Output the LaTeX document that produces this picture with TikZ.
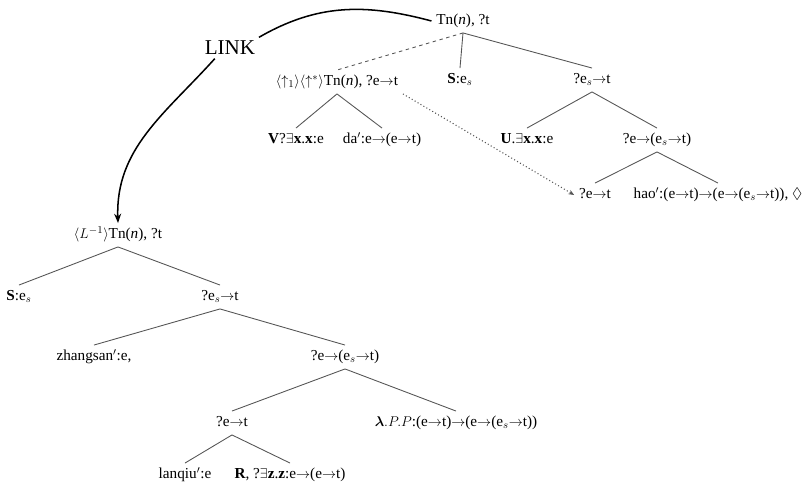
\documentclass[tikz,border=0pt]{standalone}
\usepackage{amssymb}
\usepackage{amsmath}
\usepackage{fontspec}
\setmainfont{Liberation Serif}
\usepackage{tikz}
\definecolor{white}{rgb}{1.0, 1.0, 1.0}
\definecolor{black}{rgb}{0.0, 0.0, 0.0}
\definecolor{edgegray}{RGB}{85,85,85}
\usetikzlibrary{arrows.meta}
\pgfdeclarelayer{edgelayer}
\pgfdeclarelayer{nodelayer}
\pgfsetlayers{edgelayer,nodelayer,main}
\tikzstyle{term}=[font=\fontsize{13}{15}\selectfont,text height=9pt,text depth=3pt,inner sep=4pt]
\tikzstyle{linkword}=[font=\fontsize{18}{20}\selectfont,inner sep=3pt]
\tikzstyle{branch}=[draw=edgegray,line width=0.75pt]
\tikzstyle{linkarc}=[black,line width=1.3pt]
\newcommand{\ar}{{\rightarrow}}

\begin{document}
\begin{tikzpicture}[x=0.03cm,y=0.03cm]
            \useasboundingbox (0,0) rectangle (807,485);
            \begin{pgfonlayer}{nodelayer}
            % main tree
            \node [style = term] (root) at (463, 464) {Tn(\textit{n}), ?t};
            \node [style = term] (up) at (337, 403) {$\langle\uparrow_1\rangle\langle\uparrow^{*}\rangle$Tn(\textit{n}), ?e$\ar$t};
            \node [style = term] (s_top) at (460, 405) {\textbf{S}:e$_s$};
            \node [style = term] (est) at (592, 405) {?e$_s\ar$t};

            \node [style = term] (v) at (296, 345) {\textbf{V}?$\exists$\textbf{x}.\textbf{x}:e};
            \node [style = term] (da) at (382, 345) {da$'$:e$\ar$(e$\ar$t)};
            \node [style = term] (u) at (527, 345) {\textbf{U}.$\exists$\textbf{x}.\textbf{x}:e};
            \node [style = term] (eest) at (657, 345) {?e$\ar$(e$_s\ar$t)};

            \node [style = term] (pet) at (595, 290) {?e$\ar$t};
            \node [style = term] (hao) at (718, 290) {hao$'$:(e$\ar$t)$\ar$(e$\ar$(e$_s\ar$t)), $\Diamond$};

            \node [style = linkword] (link) at (230, 437) {LINK};

            % linked tree
            \node [style = term] (lroot) at (118, 250) {$\langle L^{-1}\rangle$Tn(\textit{n}), ?t};
            \node [style = term] (s_low) at (19, 188) {\textbf{S}:e$_s$};
            \node [style = term] (lest) at (220, 188) {?e$_s\ar$t};

            \node [style = term] (zh) at (94, 128) {zhangsan$'$:e,};
            \node [style = term] (leest) at (345, 128) {?e$\ar$(e$_s\ar$t)};

            \node [style = term] (let) at (232, 62) {?e$\ar$t};
            \node [style = term] (lam) at (456, 62) {$\boldsymbol{\lambda}.P.P$:(e$\ar$t)$\ar$(e$\ar$(e$_s\ar$t))};

            \node [style = term] (lan) at (185, 10) {lanqiu$'$:e};
            \node [style = term] (r) at (290, 10) {\textbf{R}, ?$\exists$\textbf{z}.\textbf{z}:e$\ar$(e$\ar$t)};
            \end{pgfonlayer}

        \begin{pgfonlayer}{edgelayer}
            \draw [style = branch, dashed] (root.south) to (up.north);
            \draw [style = branch] (root.south) to (s_top.north);
            \draw [style = branch] (root.south) to (est.north);

            \draw [style = branch] (up.south) to (v.north);
            \draw [style = branch] (up.south) to (da.north);
            \draw [style = branch] (est.south) to (u.north);
            \draw [style = branch] (est.south) to (eest.north);
            \draw [style = branch] (eest.south) to (pet.north);
            \draw [style = branch] (eest.south) to (hao.north);

            \draw [style = branch, line width=0.9pt, dotted, -{Stealth[length=5pt,width=4pt]}] (up.south east) to (pet.west);

            \draw [style = linkarc] (root.west) to [out=165, in=30] (link.north east);
            \draw [style = linkarc, -{Stealth[length=8pt,width=6pt]}] (link.215) to [out=228, in=92] (lroot.north);

            \draw [style = branch] (lroot.south) to (s_low.north);
            \draw [style = branch] (lroot.south) to (lest.north);
            \draw [style = branch] (lest.south) to (zh.north);
            \draw [style = branch] (lest.south) to (leest.north);
            \draw [style = branch] (leest.south) to (let.north);
            \draw [style = branch] (leest.south) to (lam.north);
            \draw [style = branch] (let.south) to (lan.north);
            \draw [style = branch] (let.south) to (r.north);
        \end{pgfonlayer}
    \end{tikzpicture}
\end{document}
